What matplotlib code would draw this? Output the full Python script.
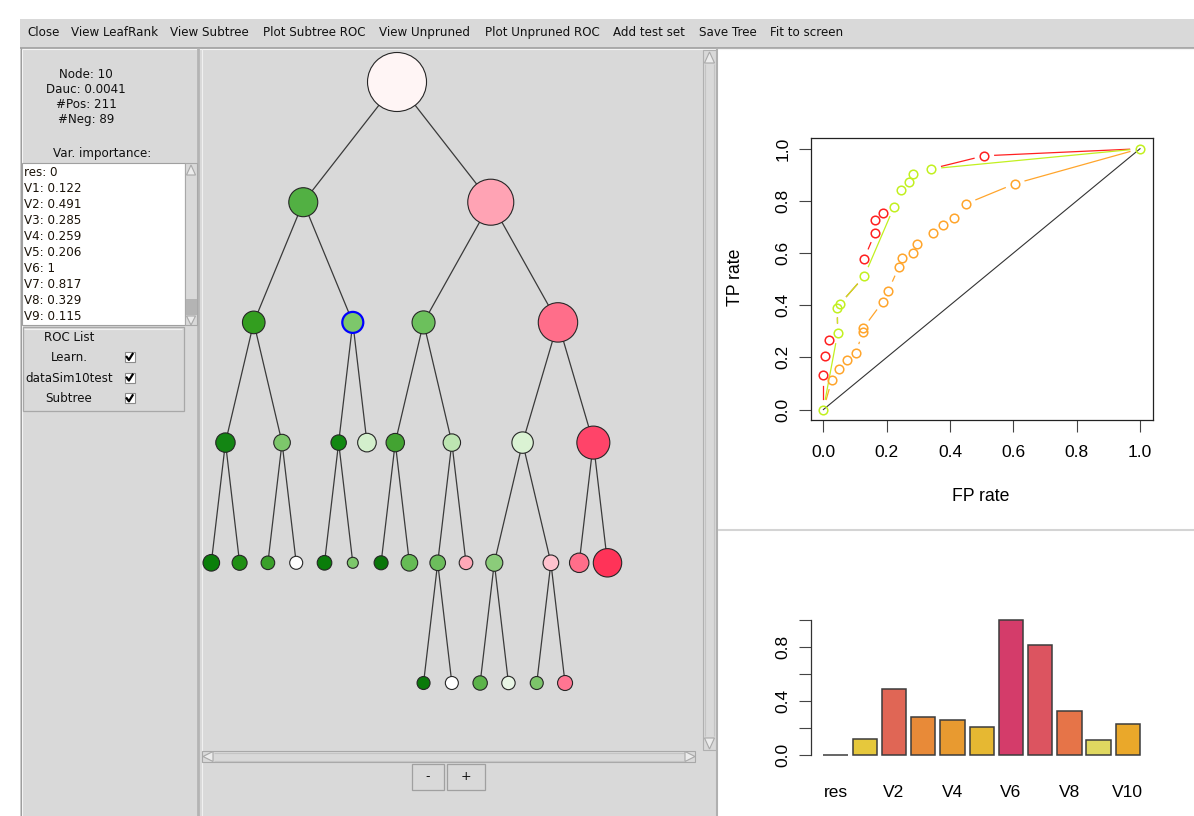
import numpy as np
import matplotlib
matplotlib.use("Agg")
import matplotlib.pyplot as plt
import matplotlib.patches as mpatches

W, H = 1194, 816
GRAY = "#d9d9d9"
plt.rcParams["font.family"] = ["DejaVu Sans"]
PLOT_FONT = "Liberation Sans"

# ---- data -------------------------------------------------------------
menu_items = ["Close", "View LeafRank", "View Subtree", "Plot Subtree ROC",
              "View Unpruned", "Plot Unpruned ROC", "Add test set",
              "Save Tree", "Fit to screen"]
node_id, node_dauc, node_pos, node_neg = 10, 0.0041, 211, 89
roc_list = ["Learn.", "dataSim10test", "Subtree"]

var_names = ["res", "V1", "V2", "V3", "V4", "V5", "V6", "V7", "V8", "V9", "V10"]
var_importance = [0, 0.122, 0.491, 0.285, 0.259, 0.206, 1, 0.817, 0.329, 0.115, 0.229]
bar_colors = ["#e8c840", "#e6c83c", "#e06655", "#e88a38", "#e89a30", "#e6b832",
              "#d43c6a", "#dc5460", "#e67448", "#e0d860", "#eaa82a"]

# ROC curves (FP rate, TP rate)
red_fp = [0, 0, 0.006, 0.019, 0.045, 0.044, 0.051, 0.129, 0.129, 0.163, 0.163,
          0.188, 0.223, 0.245, 0.270, 0.284, 0.341, 0.508, 1]
red_tp = [0, 0.132, 0.207, 0.265, 0.292, 0.391, 0.403, 0.511, 0.579, 0.677, 0.727,
          0.755, 0.777, 0.843, 0.871, 0.904, 0.923, 0.973, 1]
orange_fp = [0, 0.027, 0.050, 0.076, 0.102, 0.124, 0.125, 0.188, 0.205, 0.239,
             0.249, 0.283, 0.296, 0.346, 0.377, 0.412, 0.451, 0.605, 1]
orange_tp = [0, 0.115, 0.154, 0.190, 0.215, 0.296, 0.311, 0.414, 0.456, 0.548,
             0.583, 0.602, 0.635, 0.677, 0.708, 0.736, 0.789, 0.866, 1]
green_fp = [0, 0.045, 0.044, 0.051, 0.129, 0.223, 0.245, 0.270, 0.284, 0.341, 1]
green_tp = [0, 0.292, 0.391, 0.403, 0.511, 0.777, 0.843, 0.871, 0.904, 0.923, 1]

# tree: parent of each node, slot of the leaves, node size, node colour
tree_parent = [-1, 0, 0, 1, 1, 2, 2, 3, 3, 4, 4, 5, 5, 6, 6, 7, 7, 8, 8, 9, 9,
               11, 11, 12, 12, 13, 13, 14, 14, 23, 23, 25, 25, 26, 26]
tree_leaf_slot = {10: 11, 15: 0, 16: 2, 17: 4, 18: 6, 19: 8, 20: 10, 21: 12,
                  22: 14, 24: 18, 27: 26, 28: 28, 29: 15, 30: 17, 31: 19,
                  32: 21, 33: 23, 34: 25}
tree_size = [29.5, 14.5, 23, 11.3, 10.5, 11.5, 19.7, 9.7, 8.3, 7.7, 9.3, 9.2,
             8.7, 10.7, 16.5, 8.3, 7.5, 6.8, 6.5, 7.3, 5.5, 7, 8.3, 7.8, 6.8,
             8.5, 7.8, 9.7, 14.2, 6.5, 6.5, 7.2, 6.7, 6.5, 7.5]
tree_color = ["#fff5f5", "#52b043", "#ffa3b4", "#339e1f", "#7dc76b", "#6cc05c",
              "#ff6e8a", "#138513", "#7dc76b", "#118811", "#d3efcc", "#43a332",
              "#bde5b2", "#daf2d3", "#ff4469", "#0a7f0a", "#1f8f14", "#3aa02a",
              "#ffffff", "#0a7d0a", "#7dc76b", "#0a750a", "#66bb55", "#6cbd5c",
              "#ffa8b8", "#8bcc7a", "#ffc2ce", "#ff6e8a", "#ff3358", "#0a7a0a",
              "#ffffff", "#5cb34a", "#e8f5e5", "#7cc46a", "#ff7592"]
selected_node = 4

fig = plt.figure(figsize=(W / 100, H / 100), dpi=100)
fig.patch.set_facecolor("white")

# ---- GUI frame --------------------------------------------------------
gui = fig.add_axes([0, 0, 1, 1])
gui.set_xlim(0, W)
gui.set_ylim(H, 0)
gui.axis("off")

def rect(x, y, w, h, fc, ec="none", lw=1, z=0):
    gui.add_patch(mpatches.Rectangle((x, y), w, h, facecolor=fc, edgecolor=ec, linewidth=lw, zorder=z))

def line(xs, ys, c, lw=1, z=1):
    gui.plot(xs, ys, color=c, lw=lw, zorder=z, solid_capstyle="butt")

def tri(pts, z=3):
    gui.add_patch(mpatches.Polygon(pts, closed=True, facecolor="#ececec", edgecolor="#a8a8a8", lw=0.8, zorder=z))

rect(20, 19, W - 20, 29, GRAY)
rect(20, 48, 698, H - 48, GRAY)
rect(718, 48, W - 718, H - 48, "white")
line([20, W], [47.5, 47.5], "#a0a0a0", 1.2)
line([20, W], [49, 49], "#f4f4f4", 0.8)
line([20.5, 20.5], [48, H], "#9a9a9a", 1)
line([22, 22], [49, H], "#f4f4f4", 0.8)
line([197.5, 197.5], [48, H], "#b4b4b4", 2)
line([201.5, 201.5], [49, H], "#f0f0f0", 0.8)
line([716.5, 716.5], [48, H], "#b0b0b0", 1.5)
line([718, W], [530, 530], "#d4d4d4", 1.5)

for label, x in zip(menu_items, [27, 71, 170, 263, 379, 485, 613, 699, 770]):
    gui.text(x, 32.5, label, fontsize=8.6, va="center", ha="left", color="#111111")

info = ["Node: %d" % node_id, "Dauc: %g" % node_dauc, "#Pos: %d" % node_pos, "#Neg: %d" % node_neg]
for i, s in enumerate(info):
    gui.text(86, 74.5 + 15 * i, s, fontsize=8.6, ha="center", va="center", color="#111111")
gui.text(102, 153.5, "Var. importance:", fontsize=8.6, ha="center", va="center", color="#111111")

# list box
rect(22, 163, 163, 162, "white", "#a0a0a0", 0.8, 1)
for i, (n, v) in enumerate(zip(var_names[:10], var_importance[:10])):
    gui.text(24, 172.5 + 16 * i, "%s: %g" % (n, v), fontsize=8.6, ha="left", va="center", color="#1a1208", zorder=2)
rect(185, 163, 12, 162, GRAY, "#a8a8a8", 0.8, 1)
tri([(186.5, 175), (191, 165), (195.5, 175)])
rect(186, 299, 11, 16, "#b4b4b4", "none", 0, 2)
tri([(186.5, 316), (191, 325), (195.5, 316)])

# ROC list frame
rect(22.5, 327, 161, 84, "none", "#a8a8a8", 0.9, 1)
line([24, 182], [328.5, 328.5], "#f2f2f2", 0.8)
gui.text(69, 337.5, "ROC List", fontsize=8.6, ha="center", va="center", color="#111111")
for i, s in enumerate(roc_list):
    yy = 357.5 + 20.7 * i
    gui.text(69, yy, s, fontsize=8.6, ha="center", va="center", color="#111111")
    rect(124.5, yy - 5.5, 10, 10, "white", "#8a8a8a", 0.8, 2)
    gui.plot([126.7, 128.9, 132.6], [yy - 0.6, yy + 2.4, yy - 3.6], color="black", lw=1.6, zorder=3)

# tree panel scroll bars and buttons
rect(703, 50, 13, 700, GRAY, "#b0b0b0", 0.8, 1)
line([705, 705], [64, 736], "#c4c4c4", 0.8, 2)
line([714, 714], [64, 736], "#c4c4c4", 0.8, 2)
tri([(704.5, 63), (709.5, 52), (714.5, 63)])
tri([(704.5, 738), (709.5, 749), (714.5, 738)])
rect(202, 751, 493, 11, GRAY, "#a8a8a8", 0.8, 1)
line([214, 684], [752.5, 752.5], "#c4c4c4", 0.8, 2)
line([214, 684], [760.5, 760.5], "#c4c4c4", 0.8, 2)
tri([(213, 751.5), (203, 756.5), (213, 761.5)])
tri([(685, 751.5), (695, 756.5), (685, 761.5)])
for x0, w, s in [(412, 32, "-"), (447, 38, "+")]:
    rect(x0, 764, w, 26, GRAY, "#a0a0a0", 0.9, 1)
    gui.text(x0 + w / 2, 777, s, fontsize=9, ha="center", va="center", color="#111111", zorder=2)

# ---- tree -------------------------------------------------------------
n_nodes = len(tree_parent)
slot = np.full(n_nodes, np.nan)
for k, v in tree_leaf_slot.items():
    slot[k] = v
for i in range(n_nodes - 1, -1, -1):
    kids = [j for j in range(n_nodes) if tree_parent[j] == i]
    if kids:
        slot[i] = np.mean(slot[kids])
depth = np.zeros(n_nodes, dtype=int)
for i in range(1, n_nodes):
    depth[i] = depth[tree_parent[i]] + 1
node_x = 211.3 + 14.15 * slot
node_y = 82 + 120.2 * depth

for i in range(1, n_nodes):
    p = tree_parent[i]
    gui.plot([node_x[p], node_x[i]], [node_y[p], node_y[i]], color="#3a3a3a", lw=0.9, zorder=4)
for i in range(n_nodes):
    ec, lw = ("#0000ff", 1.6) if i == selected_node else ("#262626", 0.8)
    gui.add_patch(mpatches.Circle((node_x[i], node_y[i]), tree_size[i], facecolor=tree_color[i],
                                  edgecolor=ec, linewidth=lw, zorder=5))

# ---- ROC plot ---------------------------------------------------------
def fig_box(x0, y0, x1, y1):
    return [x0 / W, 1 - y1 / H, (x1 - x0) / W, (y1 - y0) / H]

ax = fig.add_axes(fig_box(810.7, 138.3, 1152.7, 420))
ax.set_xlim(-0.04, 1.04)
ax.set_ylim(-0.04, 1.04)
ticks = np.arange(0, 1.01, 0.2)
ax.set_xticks(ticks, ["%.1f" % t for t in ticks])
ax.set_yticks(ticks, ["%.1f" % t for t in ticks])
for sp in ax.spines.values():
    sp.set_color("#222222")
    sp.set_linewidth(0.9)
ax.tick_params(direction="out", length=8.6, width=0.8, color="#444444", labelsize=12.5)
ax.tick_params(axis="x", pad=9.5)
ax.tick_params(axis="y", pad=6, labelrotation=90)
for lab in ax.get_xticklabels() + ax.get_yticklabels():
    lab.set_family(PLOT_FONT)
for lab in ax.get_yticklabels():
    lab.set_va("center")
ax.text(0.498, -0.273, "FP rate", transform=ax.transAxes, ha="center", va="center",
        fontsize=12.7, family=PLOT_FONT)
ax.text(-0.221, 0.507, "TP rate", transform=ax.transAxes, ha="center", va="center",
        rotation=90, fontsize=12.7, family=PLOT_FONT)

ax.plot([0, 1], [0, 1], color="#333333", lw=0.8, zorder=2)

def gapped(fp, tp, color, covered=()):
    # points joined by lines that stop short of each marker
    gap = 10.5
    pts = ax.transData.transform(np.column_stack([fp, tp]))
    inv = ax.transData.inverted()
    for p, q in zip(pts[:-1], pts[1:]):
        d = q - p
        L = np.hypot(*d)
        if L <= 2 * gap:
            continue
        u = d / L
        a, b = inv.transform([p + u * gap, q - u * gap])
        ax.plot([a[0], b[0]], [a[1], b[1]], color=color, lw=0.9, zorder=3)
    keep = [(x, y) for x, y in zip(fp, tp) if (x, y) not in covered]
    ax.plot([k[0] for k in keep], [k[1] for k in keep], ls="none", marker="o", ms=6.2,
            mfc="none", mec=color, mew=1.1, zorder=4)

green_pts = set(zip(green_fp, green_tp))
gapped(orange_fp, orange_tp, "#ffa52c", green_pts)
gapped(red_fp, red_tp, "#ff2020", green_pts)
gapped(green_fp, green_tp, "#c2f020")

# ---- variable importance bars -----------------------------------------
bx = fig.add_axes(fig_box(810.7, 614.6, 1152.7, 760.7))
centers = 0.7 + 1.2 * np.arange(len(var_names))
bx.bar(centers, var_importance, width=1, color=bar_colors, edgecolor="#3c3c3c", linewidth=1.1)
bx.set_xlim(-0.32, 13.72)
bx.set_ylim(-0.04, 1.04)
for side in ["top", "right", "bottom"]:
    bx.spines[side].set_visible(False)
bx.spines["left"].set_bounds(0, 1)
bx.spines["left"].set_color("#333333")
bx.spines["left"].set_linewidth(0.9)
bx.set_yticks(ticks, ["%.1f" % t if i % 2 == 0 else "" for i, t in enumerate(ticks)])
bx.set_xticks(centers[::2], var_names[::2])
bx.tick_params(axis="y", direction="out", length=8.6, width=0.8, color="#444444",
               labelsize=12.5, pad=6, labelrotation=90)
bx.tick_params(axis="x", length=0, labelsize=12.5, pad=17.5)
for lab in bx.get_xticklabels() + bx.get_yticklabels():
    lab.set_family(PLOT_FONT)
for lab in bx.get_yticklabels():
    lab.set_va("center")

fig.savefig("out.png", dpi=100)
